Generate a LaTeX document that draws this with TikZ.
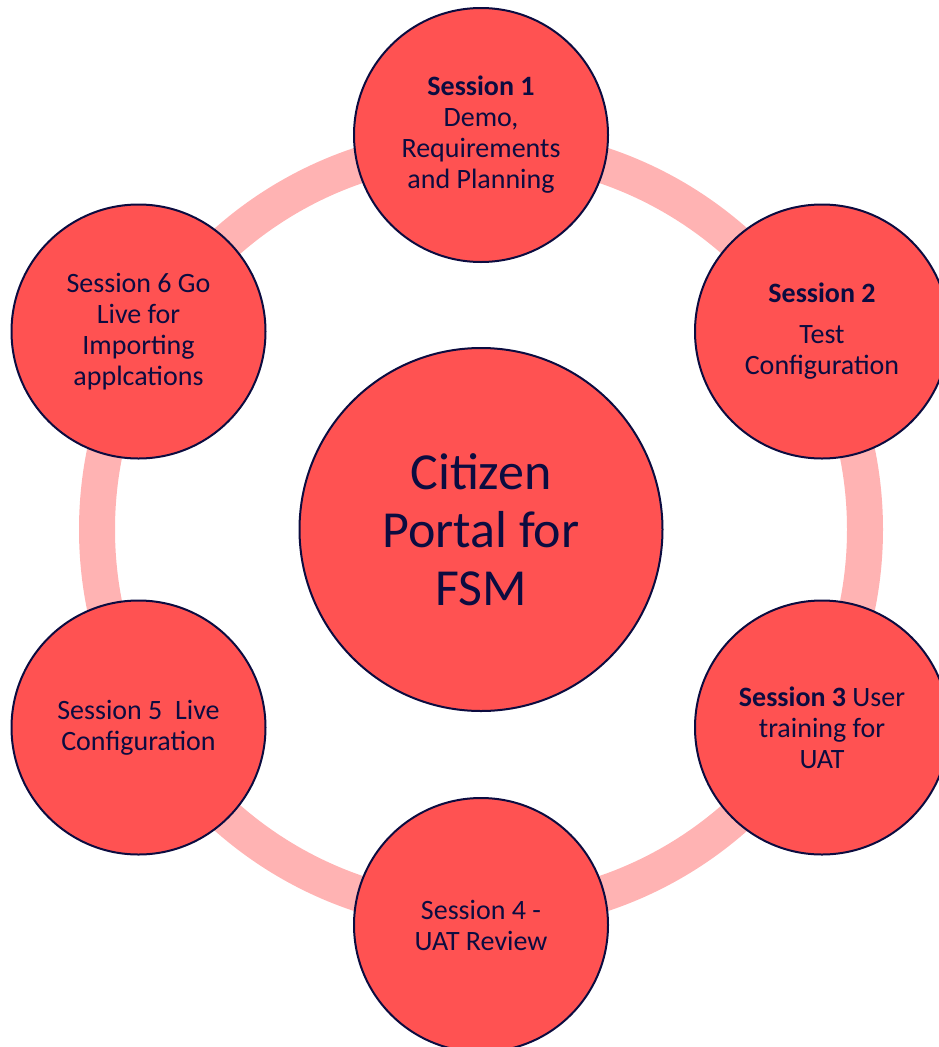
\documentclass[tikz,border=0pt]{standalone}
\usepackage{fontspec}
\setmainfont{Carlito}
\definecolor{navy}{RGB}{12,12,64}
\definecolor{redfill}{RGB}{255,82,82}
\definecolor{ringpink}{RGB}{255,179,179}
\begin{document}
\begin{tikzpicture}[x=1pt,y=-1pt,
  session/.style={circle,draw=navy,line width=2pt,fill=redfill,minimum size=254pt,inner sep=0pt,align=center,text=navy,font=\fontsize{28}{31}\selectfont},
  hub/.style={circle,draw=navy,line width=2pt,fill=redfill,minimum size=363pt,inner sep=0pt,align=center,text=navy,font=\fontsize{52}{58}\selectfont},
  ring/.style={draw=ringpink,line width=36pt}]
\useasboundingbox (0,0) rectangle (939,1047);
\clip (0,0) rectangle (939,1047);
\coordinate (C) at (481,529.5);
\draw[ring] (C) circle (384);
\node[hub] (hub) at (C) {Citizen\\Portal for\\FSM};
\node[session] (s1) at (481,135) {\textbf{Session 1}\\Demo,\\Requirements\\and Planning};
\node[session] (s2) at (822,331.5) {\textbf{Session 2}\\[10pt]Test\\Configuration};
\node[session] (s3) at (822,727.5) {\textbf{Session 3} User\\training for\\UAT};
\node[session] (s4) at (481,925) {Session 4 -\\UAT Review};
\node[session] (s5) at (138.5,727.5) {Session 5\ \ Live\\Configuration};
\node[session] (s6) at (138.5,331.5) {Session 6 Go\\Live for\\Importing\\applcations};
\end{tikzpicture}
\end{document}
